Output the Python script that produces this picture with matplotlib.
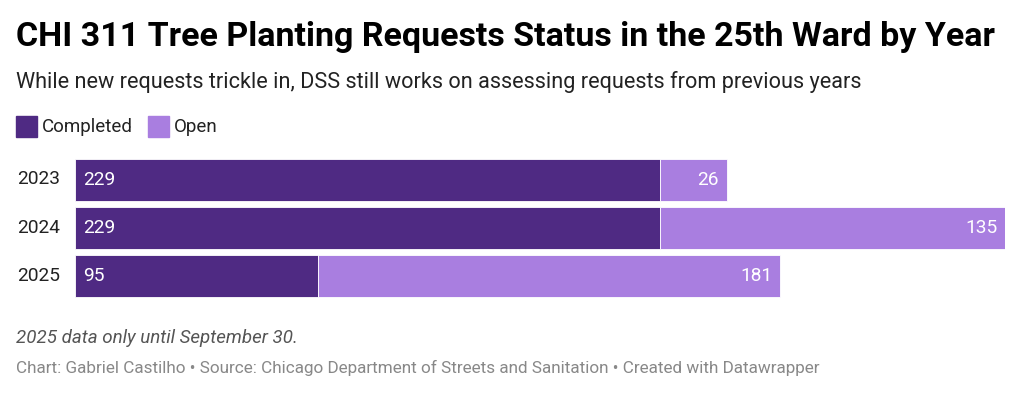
import matplotlib.pyplot as plt

plt.rcParams['font.family'] = ['Roboto', 'DejaVu Sans']

years = ['2023', '2024', '2025']
completed = [229, 229, 95]
open_req = [26, 135, 181]

c_done = '#4f2a83'
c_open = '#a97ee0'

W, H = 1022, 394
fig = plt.figure(figsize=(W / 100, H / 100), dpi=100)

# axes placed in pixel coords: x 75..1005, y 155.5..300.5
left, right, top, bottom = 75, 1005, 155.5, 300.5
ax = fig.add_axes([left / W, 1 - bottom / H, (right - left) / W, (bottom - top) / H])

ypos = range(len(years))
ax.barh(ypos, completed, height=0.875, color=c_done, edgecolor='white', linewidth=0.6)
ax.barh(ypos, open_req, left=completed, height=0.875, color=c_open, edgecolor='white', linewidth=0.6)

for i in ypos:
    ax.text(3.0, i, str(completed[i]), color='white', fontsize=13.8, va='center', ha='left')
    ax.text(completed[i] + open_req[i] - 3.0, i, str(open_req[i]), color='white',
            fontsize=13.8, va='center', ha='right')
    fig.text(17 / W, 1 - (179.5 + i * 48.3) / H, years[i], fontsize=13.8, color='#222222',
             va='center', ha='left')

ax.set_xlim(0, completed[1] + open_req[1])
ax.set_ylim(2.5, -0.5)
ax.axis('off')

fig.text(16 / W, 1 - 37 / H, 'CHI 311 Tree Planting Requests Status in the 25th Ward by Year',
         fontsize=24.5, fontweight='bold', color='black', va='center', ha='left')
fig.text(16 / W, 1 - 82 / H,
         'While new requests trickle in, DSS still works on assessing requests from previous years',
         fontsize=15.6, color='#222222', va='center', ha='left')

# legend
for x0, col, lab in [(16, c_done, 'Completed'), (148, c_open, 'Open')]:
    fig.patches.append(plt.Rectangle((x0 / W, 1 - 137 / H), 21 / W, 21 / H,
                                     transform=fig.transFigure, color=col))
    fig.text((x0 + 26) / W, 1 - 126.5 / H, lab, fontsize=13.5, color='#222222',
             va='center', ha='left')

fig.text(16 / W, 1 - 338 / H, '2025 data only until September 30.', fontsize=13.5,
         style='italic', color='#555555', va='center', ha='left')
fig.text(16 / W, 1 - 368 / H,
         'Chart: Gabriel Castilho \u2022 Source: Chicago Department of Streets and Sanitation \u2022 Created with Datawrapper',
         fontsize=12.3, color='#888888', va='center', ha='left')

fig.savefig('out.png', dpi=100, facecolor='white')
